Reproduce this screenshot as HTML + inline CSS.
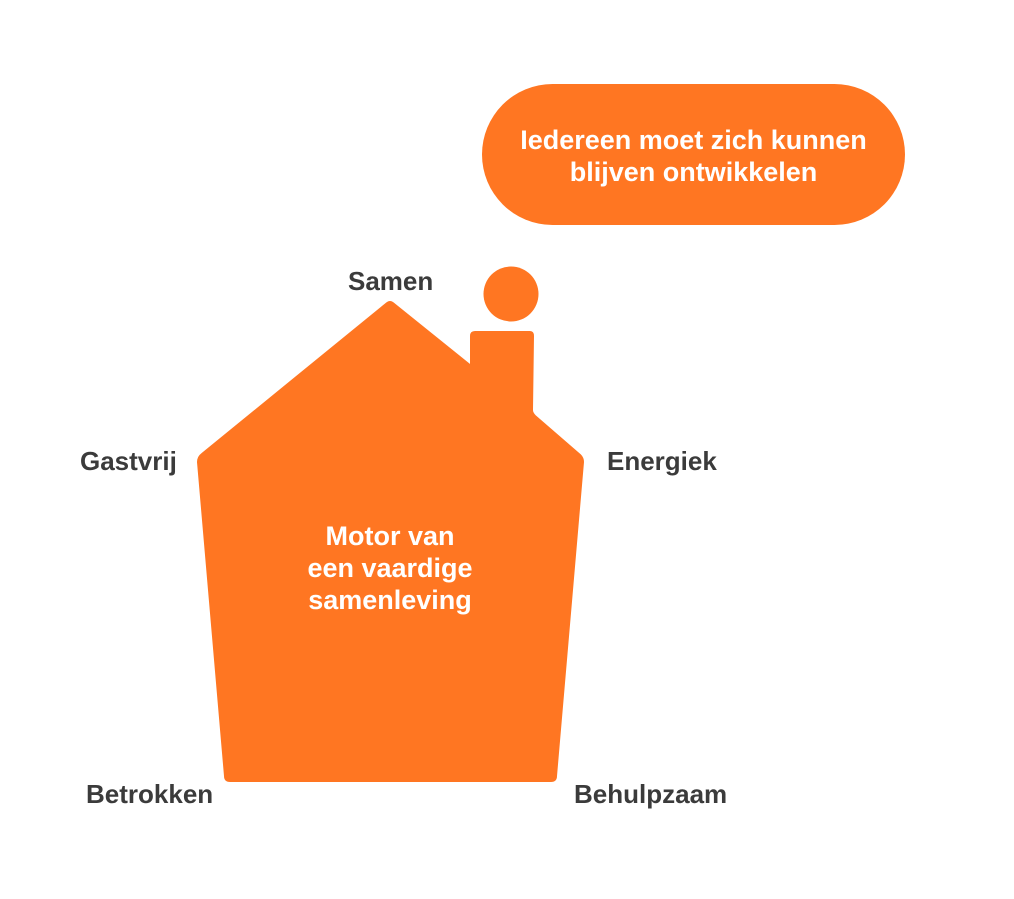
<!DOCTYPE html>
<html><head><meta charset="utf-8">
<style>
html,body{margin:0;padding:0;background:#fff;}
body{width:1014px;height:899px;position:relative;overflow:hidden;font-family:"Liberation Sans",sans-serif;}
.l{position:absolute;font-size:26px;font-weight:bold;color:#3b3b3b;white-space:nowrap;line-height:1;}
.w{position:absolute;color:#fff;font-weight:bold;text-align:center;white-space:nowrap;}
</style></head><body>
<svg width="1014" height="899" style="position:absolute;left:0;top:0">
<rect x="482" y="84" width="423" height="141" rx="70.5" fill="#ff7622"/>
<circle cx="511" cy="294" r="27.5" fill="#ff7622"/>
<path d="M386,304 Q390,300 394,304 L471,366 L471,336 Q471,332 475,332 L530,332 Q533,332 533,336 L532,410 Q532,413 535,416 L580,455 Q583,458 583,462 L556,776 Q556,781 551,781 L230,781 Q225,781 225,776 L198,462 Q198,457 202,454 Z" fill="#ff7622" stroke="#ff7622" stroke-width="2" stroke-linejoin="round"/>
</svg>
<div class="w" style="left:482px;width:423px;top:124px;font-size:27px;line-height:32px;">Iedereen moet zich kunnen<br>blijven ontwikkelen</div>
<div class="w" style="left:290px;width:200px;top:520px;font-size:27px;line-height:32px;">Motor van<br>een vaardige<br>samenleving</div>
<div class="l" style="left:348px;top:268px;">Samen</div>
<div class="l" style="left:80px;top:448px;">Gastvrij</div>
<div class="l" style="left:607px;top:448px;">Energiek</div>
<div class="l" style="left:86px;top:781px;">Betrokken</div>
<div class="l" style="left:574px;top:781px;">Behulpzaam</div>
</body></html>
